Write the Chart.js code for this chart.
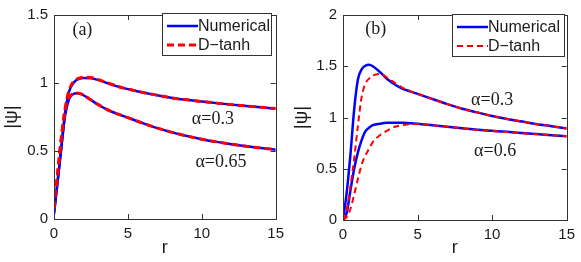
<!DOCTYPE html>
<html>
<head>
<meta charset="utf-8">
<script src="https://cdn.jsdelivr.net/npm/chart.js@4.4.1/dist/chart.umd.min.js"></script>
<style>
  html, body { margin: 0; padding: 0; background: #fff; }
  .panel { position: absolute; top: 0; height: 262px; }
  #pa { left: 0; width: 290px; }
  #pb { left: 290px; width: 291px; }
</style>
</head>
<body>
<div class="panel" id="pa"><canvas id="chartA"></canvas></div>
<div class="panel" id="pb"><canvas id="chartB"></canvas></div>
<script>
// radial grid shared by every curve
const rGrid = [0, 0.25, 0.5, 0.75, 1, 1.25, 1.5, 1.75, 2, 2.5, 3, 3.5, 4, 4.5, 5, 6, 7, 8, 9, 10, 11, 12, 13, 14, 15];

// panel (a)
const aNum03  = [0.04, 0.28, 0.53, 0.78, 0.93, 0.99, 1.02, 1.032, 1.037, 1.035, 1.022, 1.003, 0.985, 0.968, 0.955, 0.93, 0.91, 0.89, 0.876, 0.864, 0.852, 0.841, 0.831, 0.821, 0.812];
const aTanh03 = [0.08, 0.34, 0.60, 0.81, 0.94, 1.00, 1.025, 1.037, 1.042, 1.04, 1.025, 1.005, 0.987, 0.969, 0.956, 0.931, 0.91, 0.89, 0.876, 0.864, 0.852, 0.841, 0.831, 0.821, 0.812];
const aNum065  = [0.04, 0.28, 0.53, 0.76, 0.875, 0.915, 0.925, 0.922, 0.91, 0.875, 0.84, 0.81, 0.785, 0.765, 0.745, 0.705, 0.668, 0.637, 0.61, 0.587, 0.567, 0.55, 0.535, 0.522, 0.51];
const aTanh065 = [0.08, 0.34, 0.60, 0.80, 0.89, 0.92, 0.927, 0.923, 0.911, 0.876, 0.841, 0.81, 0.785, 0.765, 0.745, 0.705, 0.668, 0.637, 0.61, 0.587, 0.567, 0.55, 0.535, 0.522, 0.51];

// panel (b)
const bNum03  = [0, 0.27, 0.64, 1.08, 1.37, 1.47, 1.505, 1.515, 1.5, 1.44, 1.37, 1.32, 1.28, 1.255, 1.23, 1.18, 1.13, 1.085, 1.05, 1.015, 0.985, 0.96, 0.935, 0.915, 0.893];
const bTanh03 = [0, 0.10, 0.33, 0.60, 0.92, 1.20, 1.33, 1.38, 1.41, 1.425, 1.385, 1.335, 1.29, 1.258, 1.232, 1.18, 1.13, 1.085, 1.05, 1.015, 0.985, 0.96, 0.935, 0.915, 0.893];
const bNum06  = [0, 0.07, 0.29, 0.50, 0.66, 0.78, 0.865, 0.90, 0.925, 0.94, 0.948, 0.95, 0.948, 0.945, 0.94, 0.925, 0.91, 0.895, 0.88, 0.87, 0.86, 0.848, 0.838, 0.828, 0.818];
const bTanh06 = [0, 0.03, 0.11, 0.25, 0.40, 0.54, 0.63, 0.695, 0.76, 0.83, 0.875, 0.91, 0.925, 0.935, 0.936, 0.924, 0.909, 0.894, 0.879, 0.868, 0.858, 0.847, 0.837, 0.827, 0.817];

const xTicks = [0, 5, 10, 15];
const yMaxA = 1.5, yMaxB = 2;

// in-plot labels, data coordinates
const notesA = [
  { text: '(a)', x: 1.92, y: 1.387 },
  { text: '\u03b1=0.3', x: 10.75, y: 0.735 },
  { text: '\u03b1=0.65', x: 11.3, y: 0.418 },
];
const notesB = [
  { text: '(b)', x: 2.2, y: 1.86 },
  { text: '\u03b1=0.3', x: 10.0, y: 1.173 },
  { text: '\u03b1=0.6', x: 10.2, y: 0.673 },
];

const SANS = "'Liberation Sans', Arial, Helvetica, sans-serif";
const SERIF = "'Liberation Serif', 'Times New Roman', serif";
const INK = '#1a1a1a';
const BLUE = '#0000ff';
const RED = '#ff0000';

const pts = (ys) => rGrid.map((r, i) => ({ x: r, y: ys[i] }));

// box, inward ticks, legend and labels (MATLAB look)
const frame = {
  id: 'frame',
  afterDraw(chart, args, o) {
    const { ctx, chartArea: a, scales: { x, y } } = chart;
    ctx.save();
    ctx.strokeStyle = '#333';
    ctx.lineWidth = 1;
    ctx.strokeRect(Math.round(a.left) + 0.5, Math.round(a.top) + 0.5,
      Math.round(a.right - a.left), Math.round(a.bottom - a.top));
    const L = 5;
    ctx.beginPath();
    x.ticks.forEach((t) => {
      const px = Math.round(x.getPixelForValue(t.value)) + 0.5;
      ctx.moveTo(px, a.bottom); ctx.lineTo(px, a.bottom - L);
      ctx.moveTo(px, a.top); ctx.lineTo(px, a.top + L);
    });
    y.ticks.forEach((t) => {
      const py = Math.round(y.getPixelForValue(t.value)) + 0.5;
      ctx.moveTo(a.left, py); ctx.lineTo(a.left + L, py);
      ctx.moveTo(a.right, py); ctx.lineTo(a.right - L, py);
    });
    ctx.stroke();

    // labels inside the axes
    ctx.fillStyle = INK;
    ctx.font = '18px ' + SERIF;
    ctx.textAlign = 'center';
    ctx.textBaseline = 'middle';
    o.notes.forEach((n) => ctx.fillText(n.text, x.getPixelForValue(n.x), y.getPixelForValue(n.y)));

    // legend
    const lg = o.legend;
    ctx.fillStyle = '#fff';
    ctx.fillRect(lg.x, lg.y, lg.w, lg.h);
    ctx.strokeStyle = '#333';
    ctx.strokeRect(lg.x + 0.5, lg.y + 0.5, lg.w, lg.h);
    const items = [chart.data.datasets[0], chart.data.datasets[1]];
    ctx.font = '16px ' + SANS;
    ctx.textAlign = 'left';
    items.forEach((ds, i) => {
      const yy = lg.y + 13 + i * 19;
      ctx.strokeStyle = ds.borderColor;
      ctx.lineWidth = ds.borderWidth;
      ctx.setLineDash(ds.borderDash || []);
      ctx.beginPath();
      ctx.moveTo(lg.x + 5, yy); ctx.lineTo(lg.x + 36, yy);
      ctx.stroke();
      ctx.setLineDash([]);
      ctx.fillStyle = INK;
      ctx.fillText(ds.label, lg.x + 36, yy + 1);
    });
    ctx.restore();
  },
};

function makePanel(id, cfg) {
  const num = { borderColor: BLUE, borderWidth: 2.5, pointRadius: 0, cubicInterpolationMode: 'monotone', order: 2 };
  const tanh = { borderColor: RED, borderWidth: cfg.dashW, borderDash: cfg.dash, pointRadius: 0, cubicInterpolationMode: 'monotone', order: 1 };
  return new Chart(document.getElementById(id), {
    type: 'line',
    data: {
      datasets: [
        { ...num, label: 'Numerical', data: pts(cfg.num[0]) },
        { ...tanh, label: 'D\u2212tanh', data: pts(cfg.tanh[0]) },
        { ...num, label: 'Numerical', data: pts(cfg.num[1]) },
        { ...tanh, label: 'D\u2212tanh', data: pts(cfg.tanh[1]) },
      ],
    },
    options: {
      responsive: true,
      maintainAspectRatio: false,
      animation: false,
      layout: { padding: { top: cfg.top, right: cfg.right, left: 0, bottom: 0 } },
      plugins: {
        legend: { display: false },
        tooltip: { enabled: false },
        frame: { notes: cfg.notes, legend: cfg.legend },
      },
      scales: {
        x: {
          type: 'linear', min: 0, max: 15,
          afterBuildTicks: (s) => { s.ticks = xTicks.map((v) => ({ value: v })); },
          afterFit: (s) => { s.height = cfg.xh; },
          grid: { display: false, drawTicks: false },
          border: { display: false },
          ticks: { color: INK, font: { family: SANS, size: 15 }, padding: 6, maxRotation: 0, callback: (v) => String(v) },
          title: { display: true, text: 'r', color: INK, font: { family: SANS, size: 18 }, padding: { top: 0, bottom: 3 } },
        },
        y: {
          min: 0, max: cfg.ymax,
          ticks: { stepSize: 0.5, color: INK, font: { family: SANS, size: 15 }, padding: 6, callback: (v) => String(v) },
          afterFit: (s) => { s.width = cfg.yw; },
          grid: { display: false, drawTicks: false },
          border: { display: false },
          title: { display: true, text: '|\u03c8|', color: INK, font: { family: SANS, size: 19 }, padding: { top: 0, bottom: 0 } },
        },
      },
    },
    plugins: [frame],
  });
}

makePanel('chartA', {
  num: [aNum03, aNum065], tanh: [aTanh03, aTanh065],
  ymax: yMaxA, dash: [7, 4], dashW: 3,
  top: 11, right: 13, yw: 54, xh: 43,
  notes: notesA,
  legend: { x: 162, y: 13, w: 109, h: 42 },
});
makePanel('chartB', {
  num: [bNum03, bNum06], tanh: [bTanh03, bTanh06],
  ymax: yMaxB, dash: [6, 4], dashW: 2,
  top: 12, right: 14, yw: 53, xh: 42,
  notes: notesB,
  legend: { x: 162, y: 14, w: 112, h: 42 },
});
</script>
</body>
</html>
